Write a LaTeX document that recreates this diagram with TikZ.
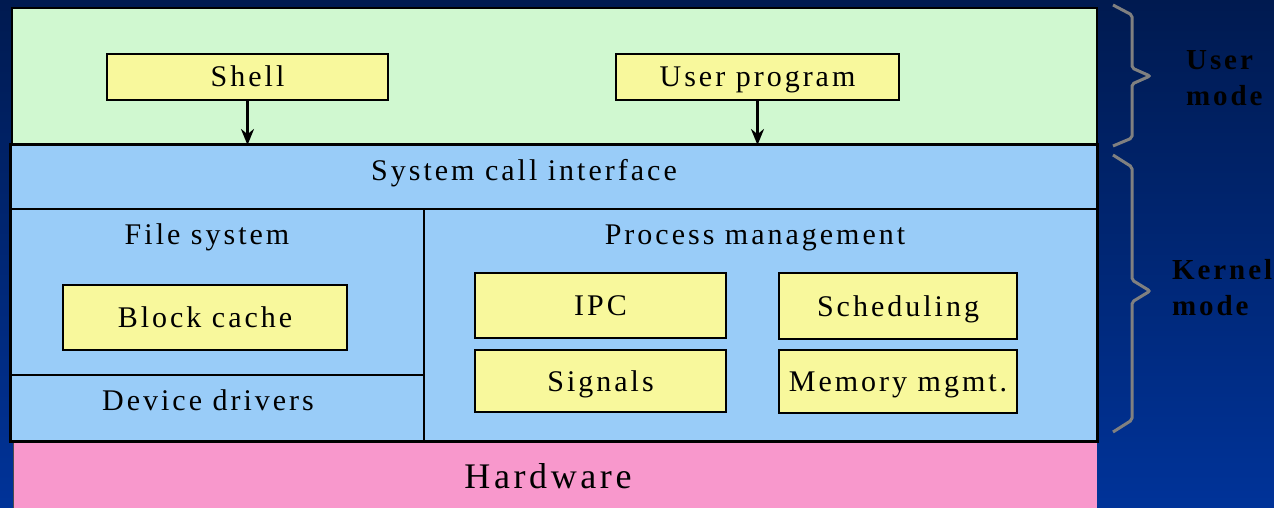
\documentclass[tikz,border=0pt]{standalone}
\usepackage{fontspec}
\setmainfont{Liberation Serif}[LetterSpace=10]
\usetikzlibrary{arrows.meta}
\definecolor{bgtop}{RGB}{0,26,80}
\definecolor{bgbot}{RGB}{0,51,153}
\definecolor{usergreen}{RGB}{208,248,208}
\definecolor{kernblue}{RGB}{153,204,248}
\definecolor{boxyellow}{RGB}{248,248,156}
\definecolor{hwpink}{RGB}{248,152,204}
\definecolor{bracegray}{RGB}{128,128,128}
\tikzset{
  area/.style={draw=black, inner sep=0pt, outer sep=0pt, anchor=north west},
  ybox/.style={draw=black, line width=2pt, fill=boxyellow, inner sep=0pt, outer sep=0pt, text height=20pt, text depth=0pt, font=\fontsize{30}{32}\selectfont},
  lbl/.style={inner sep=0pt, text height=20pt, text depth=0pt, font=\fontsize{30}{32}\selectfont},
  modelbl/.style={inner sep=0pt, align=left, anchor=west, font=\fontsize{29}{36}\selectfont\bfseries},
  bracepath/.style={draw=bracegray, line width=3pt, rounded corners=2pt},
  callarrow/.style={draw=black, line width=2.5pt, -{Stealth[length=16pt,width=13pt]}}
}
\begin{document}
\begin{tikzpicture}[x=1pt,y=-1pt]
\useasboundingbox (0,0) rectangle (1274,508);
\shade[top color=bgtop, bottom color=bgbot] (0,0) rectangle (1274,508);
% user region
\node[area, fill=usergreen, line width=1.5pt, minimum width=1085pt, minimum height=138pt] (user) at (12,8) {};
% hardware
\node[area, draw=none, fill=hwpink, minimum width=1084pt, minimum height=70pt] (hw) at (13,441) {};
\draw[line width=1pt, black!70] (13,441) -- (13,508);
\node[lbl, text height=24pt, font=\fontsize{36}{38}\selectfont] (hwlbl) at (548,476) {Hardware};
% kernel
\node[area, fill=kernblue, line width=3pt, minimum width=1087pt, minimum height=296pt] (kernel) at (10,145) {};
\node[area, draw=none, minimum width=1087pt, minimum height=64pt] (syscall) at (10,145) {};
\draw[line width=1.5pt] (10,209) -- (1097,209);
\draw[line width=2pt] (424,209) -- (424,441);
\draw[line width=1.5pt] (10,375) -- (424,375);
\node[lbl] (sclbl) at (524,170) {System call interface};
\node[lbl] (fslbl) at (207,234) {File system};
\node[lbl] (pmlbl) at (755,234) {Process management};
\node[lbl] (ddlbl) at (208,400) {Device drivers};
% yellow boxes
\node[ybox, minimum width=281pt, minimum height=46pt] (shell) at (247.5,77) {Shell};
\node[ybox, minimum width=283pt, minimum height=46pt] (uprog) at (757.5,77) {User program};
\node[ybox, minimum width=284pt, minimum height=65pt] (bcache) at (205,317.5) {Block cache};
\node[ybox, minimum width=251pt, minimum height=65pt] (ipc) at (600.5,305.5) {IPC};
\node[ybox, minimum width=238pt, minimum height=66pt] (sched) at (898,306) {Scheduling};
\node[ybox, minimum width=251pt, minimum height=62pt] (signals) at (600.5,381) {Signals};
\node[ybox, minimum width=238pt, minimum height=63pt] (memmgmt) at (898,381.5) {Memory mgmt.};
% arrows
\draw[callarrow] (shell.south) -- (shell.south |- syscall.north);
\draw[callarrow] (uprog.south) -- (uprog.south |- syscall.north);
% braces
\draw[bracepath] (1113,5) -- (1132,15) -- (1132,68) -- (1150,76) -- (1132,84) -- (1132,138) -- (1113,146);
\draw[bracepath] (1113,155) -- (1132,167) -- (1132,280) -- (1150,291) -- (1132,302) -- (1132,420) -- (1113,432);
\node[modelbl] (usermode) at (1186,78) {User\\mode};
\node[modelbl] (kernmode) at (1172,288) {Kernel\\mode};
\end{tikzpicture}
\end{document}
